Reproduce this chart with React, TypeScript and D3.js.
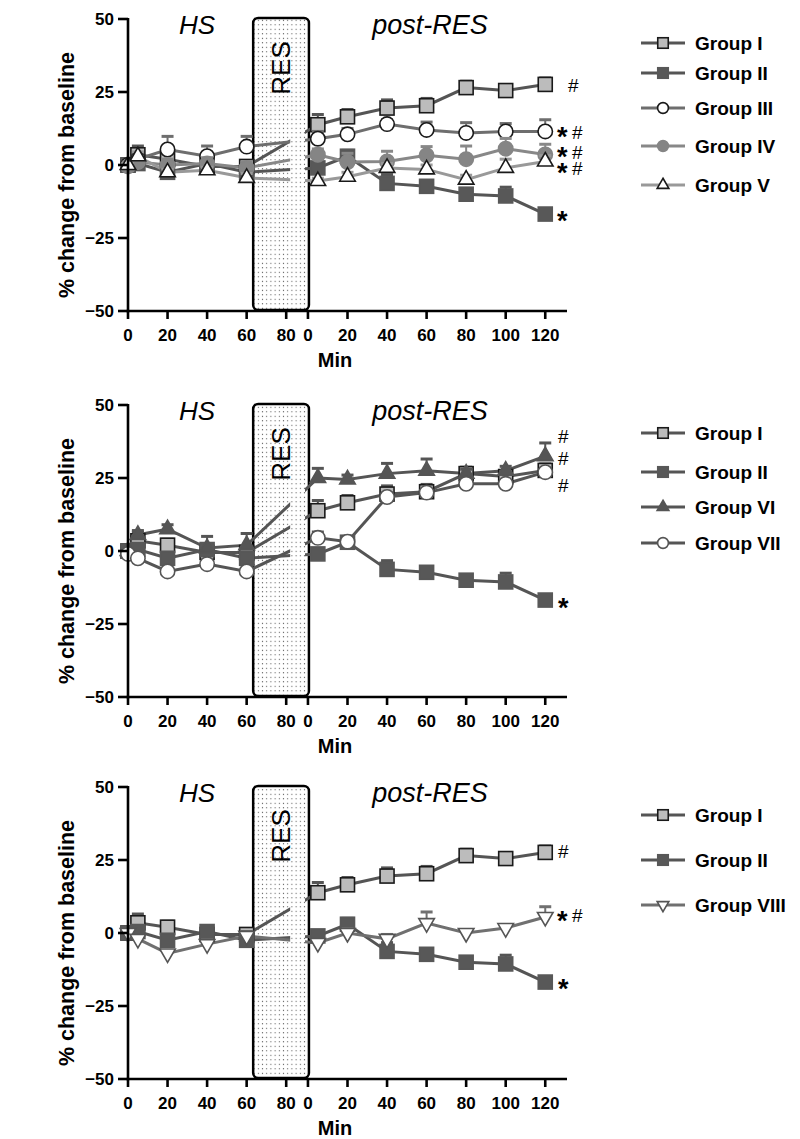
import React from "react";
import * as d3 from "d3";

// time points (min)
const hsTimes = [0, 5, 20, 40, 60];
const postTimes = [5, 20, 40, 60, 80, 100, 120];
const hsTicks = [0, 20, 40, 60, 80];
const postTicks = [0, 20, 40, 60, 80, 100, 120];
const yTicks = [-50, -25, 0, 25, 50];

// % change from baseline (HS phase / post-RES phase) and upper SEM
const groupIHs = [0, 3.5, 2, -0.5, -0.5];
const groupIPost = [13.8, 16.5, 19.5, 20.3, 26.5, 25.5, 27.6];
const groupIErrHs = [0, 3, 2, 2, 2];
const groupIErrPost = [3.5, 2.5, 2.8, 2.5, 2.2, 2, 2.2];

const groupIIHs = [0, 0.5, -2.5, 0.5, -2.5];
const groupIIPost = [-1, 3, -6.3, -7.3, -10, -10.6, -16.8];
const groupIIErrHs = [0, 1.5, 2, 1.5, 1.5];
const groupIIErrPost = [1.5, 2, 3, 2, 1.5, 3, 0.5];

const groupIIIHs = [0, 2, 5.3, 3, 6.3];
const groupIIIPost = [9, 10.5, 14, 12, 11, 11.5, 11.5];
const groupIIIErrHs = [0, 2, 4.5, 3.5, 3.5];
const groupIIIErrPost = [2.5, 2, 1.5, 2.7, 3.5, 2.7, 4];

const groupIVHs = [-0.5, 1, 0, 0.5, -1];
const groupIVPost = [3.5, 1, 1.2, 3.3, 2, 5.6, 3.6];
const groupIVErrHs = [0, 2, 2, 2, 2];
const groupIVErrPost = [2, 3, 3.5, 3, 4.5, 3.5, 3.5];

const groupVHs = [0, 3, -2.5, -1.8, -4.4];
const groupVPost = [-5.5, -4, -1, -1.5, -5, -1, 1.2];
const groupVErrHs = [0.5, 1.5, 1, 1, 1.5];
const groupVErrPost = [1, 1.5, 1.5, 1.5, 1.5, 3, 2];

const groupVIHs = [0, 5.5, 7.5, 1, 2];
const groupVIPost = [25, 24.5, 26.5, 27.5, 26.5, 27.5, 32.5];
const groupVIErrHs = [0, 1.5, 1.5, 4, 4];
const groupVIErrPost = [3.3, 1.5, 3.5, 4, 1.5, 1.5, 4.5];

const groupVIIHs = [-1, -2.5, -7, -4.5, -7];
const groupVIIPost = [4.5, 3.2, 18.5, 20, 23, 23, 27];
const groupVIIErrHs = [0, 1, 1, 1, 1];
const groupVIIErrPost = [2, 1, 1, 1, 1, 1, 1];

const groupVIIIHs = [0, -2, -7, -3.8, -1];
const groupVIIIPost = [-3.4, 0, -2, 3.4, 0, 1.7, 5.5];
const groupVIIIErrHs = [0, 1, 1, 1.5, 1.5];
const groupVIIIErrPost = [1, 1.5, 1.5, 3.8, 1, 1, 3.5];

const POST_OFFSET = 91; // post-RES 0 sits 91 "min" after HS 0 on the broken axis

type Series = {
  name: string;
  hs: number[];
  post: number[];
  errHs: number[];
  errPost: number[];
  shape: "square" | "circle" | "triangle" | "down";
  line: string;
  fill: string;
  stroke: string;
};

const G: Record<string, Series> = {
  I: { name: "Group I", hs: groupIHs, post: groupIPost, errHs: groupIErrHs, errPost: groupIErrPost, shape: "square", line: "#555", fill: "#bcbcbc", stroke: "#1a1a1a" },
  II: { name: "Group II", hs: groupIIHs, post: groupIIPost, errHs: groupIIErrHs, errPost: groupIIErrPost, shape: "square", line: "#555", fill: "#585858", stroke: "#585858" },
  III: { name: "Group III", hs: groupIIIHs, post: groupIIIPost, errHs: groupIIIErrHs, errPost: groupIIIErrPost, shape: "circle", line: "#6e6e6e", fill: "#fff", stroke: "#1a1a1a" },
  IV: { name: "Group IV", hs: groupIVHs, post: groupIVPost, errHs: groupIVErrHs, errPost: groupIVErrPost, shape: "circle", line: "#888", fill: "#858585", stroke: "#858585" },
  V: { name: "Group V", hs: groupVHs, post: groupVPost, errHs: groupVErrHs, errPost: groupVErrPost, shape: "triangle", line: "#999", fill: "#fff", stroke: "#1a1a1a" },
  VI: { name: "Group VI", hs: groupVIHs, post: groupVIPost, errHs: groupVIErrHs, errPost: groupVIErrPost, shape: "triangle", line: "#555", fill: "#555", stroke: "#555" },
  VII: { name: "Group VII", hs: groupVIIHs, post: groupVIIPost, errHs: groupVIIErrHs, errPost: groupVIIErrPost, shape: "circle", line: "#555", fill: "#fff", stroke: "#555" },
  VIII: { name: "Group VIII", hs: groupVIIIHs, post: groupVIIIPost, errHs: groupVIIIErrHs, errPost: groupVIIIErrPost, shape: "down", line: "#707070", fill: "#fff", stroke: "#555" },
};

type Note = { key: string; text: string; dy: number; dx: number };

const panels = [
  {
    top: 19,
    keys: ["I", "II", "III", "IV", "V"],
    legendY: [24, 54, 89, 127, 166],
    notes: [
      { key: "I", text: "#", dy: 1, dx: 28 },
      { key: "III", text: "*#", dy: 0, dx: 17 },
      { key: "IV", text: "*#", dy: -3, dx: 17 },
      { key: "V", text: "*#", dy: 6, dx: 17 },
      { key: "II", text: "*", dy: 1, dx: 17 },
    ] as Note[],
  },
  {
    top: 405,
    keys: ["I", "II", "VI", "VII"],
    legendY: [28, 67, 102, 138],
    notes: [
      { key: "VI", text: "#", dy: -20, dx: 18 },
      { key: "I", text: "#", dy: -12, dx: 18 },
      { key: "VII", text: "#", dy: 13, dx: 18 },
      { key: "II", text: "*", dy: 2, dx: 18 },
    ] as Note[],
  },
  {
    top: 787,
    keys: ["I", "II", "VIII"],
    legendY: [28, 73, 118],
    notes: [
      { key: "I", text: "#", dy: -1, dx: 18 },
      { key: "VIII", text: "*#", dy: -2, dx: 17 },
      { key: "II", text: "*", dy: 1, dx: 18 },
    ] as Note[],
  },
];

const FONT = "'Liberation Sans', Arial, sans-serif";
const x = d3.scaleLinear().domain([0, 222]).range([128, 567]);

function Marker({ s, cx, cy, scale = 1 }: { s: Series; cx: number; cy: number; scale?: number }) {
  const sw = 1.6;
  if (s.shape === "square") {
    const h = 7 * scale;
    return <rect x={cx - h} y={cy - h} width={2 * h} height={2 * h} fill={s.fill} stroke={s.stroke} strokeWidth={sw} />;
  }
  if (s.shape === "circle") {
    return <circle cx={cx} cy={cy} r={7.2 * scale} fill={s.fill} stroke={s.stroke} strokeWidth={sw} />;
  }
  const path = d3.symbol(d3.symbolTriangle, 105 * scale * scale)()!;
  const rot = s.shape === "down" ? 180 : 0;
  return <path d={path} transform={`translate(${cx},${cy}) rotate(${rot})`} fill={s.fill} stroke={s.stroke} strokeWidth={sw} />;
}

function Panel({ cfg, idx }: { cfg: (typeof panels)[number]; idx: number }) {
  const top = cfg.top;
  const bottom = top + 292;
  const y = d3.scaleLinear().domain([-50, 50]).range([bottom, top]);
  const series = cfg.keys.map((k) => G[k]);
  const line = d3.line<[number, number]>().x((d) => x(d[0])).y((d) => y(d[1]));
  const pts = (s: Series) => [
    ...hsTimes.map((t, i) => ({ t, v: s.hs[i], e: s.errHs[i] })),
    ...postTimes.map((t, i) => ({ t: t + POST_OFFSET, v: s.post[i], e: s.errPost[i] })),
  ];
  const boxL = x(63.3), boxR = x(91.5);

  return (
    <g>
      <defs>
        <clipPath id={`hs${idx}`}><rect x={100} y={top - 30} width={x(82) - 100} height={340} /></clipPath>
        <clipPath id={`po${idx}`}><rect x={x(89.5)} y={top - 30} width={300} height={340} /></clipPath>
      </defs>
      {/* RES box */}
      <rect x={boxL} y={top - 1} width={boxR - boxL} height={bottom - top} rx={5} fill="url(#dots)" stroke="#000" strokeWidth={2.5} />
      <text transform={`translate(${(boxL + boxR) / 2 + 9},${top + 49}) rotate(-90)`} textAnchor="middle" fontFamily={FONT} fontSize={26}>RES</text>
      <text x={197} y={top + 15} textAnchor="middle" fontFamily={FONT} fontSize={26} fontStyle="italic">HS</text>
      <text x={430} y={top + 15} textAnchor="middle" fontFamily={FONT} fontSize={27} fontStyle="italic">post-RES</text>

      {/* lines */}
      {series.map((s) => {
        const d = line(pts(s).map((p) => [p.t, p.v] as [number, number]))!;
        return (
          <g key={s.name} fill="none" stroke={s.line} strokeWidth={3}>
            <path d={d} clipPath={`url(#hs${idx})`} />
            <path d={d} clipPath={`url(#po${idx})`} />
          </g>
        );
      })}
      {/* error bars + markers */}
      {series.map((s) => (
        <g key={s.name + "m"}>
          {pts(s).filter((p) => p.e > 0.3).map((p, i) => (
            <g key={i} stroke={s.line}>
              <line x1={x(p.t)} x2={x(p.t)} y1={y(p.v)} y2={y(p.v + p.e)} strokeWidth={2} />
              <line x1={x(p.t) - 6} x2={x(p.t) + 6} y1={y(p.v + p.e)} y2={y(p.v + p.e)} strokeWidth={3} />
            </g>
          ))}
          {pts(s).map((p, i) => <Marker key={i} s={s} cx={x(p.t)} cy={y(p.v)} />)}
        </g>
      ))}

      {/* significance marks */}
      {cfg.notes.map((n, i) => {
        const s = G[n.key];
        const cx = x(120 + POST_OFFSET) + n.dx;
        const cy = y(s.post[s.post.length - 1]) + n.dy;
        if (n.text === "#") return <text key={i} x={cx} y={cy + 6.5} textAnchor="middle" fontFamily={FONT} fontSize={19}>#</text>;
        return (
          <g key={i}>
            <text x={cx} y={cy + 15} textAnchor="middle" fontFamily={FONT} fontSize={27} fontWeight="bold">*</text>
            {n.text === "*#" && <text x={cx + 15} y={cy + 7.5} textAnchor="middle" fontFamily={FONT} fontSize={19}>#</text>}
          </g>
        );
      })}

      {/* axes */}
      <g stroke="#000" strokeWidth={2.6}>
        <line x1={128} x2={128} y1={top - 1} y2={bottom + 1.3} />
        <line x1={126.7} x2={567} y1={bottom} y2={bottom} />
        {yTicks.map((t) => <line key={t} x1={118} x2={128} y1={y(t)} y2={y(t)} />)}
        {hsTicks.map((t) => <line key={"h" + t} x1={x(t)} x2={x(t)} y1={bottom} y2={bottom + 8} />)}
        {postTicks.map((t) => <line key={"p" + t} x1={x(t + POST_OFFSET)} x2={x(t + POST_OFFSET)} y1={bottom} y2={bottom + 8} />)}
      </g>
      <g fontFamily={FONT} fontWeight="bold" fontSize={17}>
        {yTicks.map((t) => (
          <text key={t} x={114} y={y(t) + 6} textAnchor="end">{t < 0 ? `\u2212${-t}` : t}</text>
        ))}
        {hsTicks.map((t) => <text key={"h" + t} x={x(t)} y={bottom + 30} textAnchor="middle">{t}</text>)}
        {postTicks.map((t) => <text key={"p" + t} x={x(t + POST_OFFSET)} y={bottom + 30} textAnchor="middle">{t}</text>)}
        <text x={335} y={bottom + 56} textAnchor="middle" fontSize={20}>Min</text>
        <text transform={`translate(74,${top + 156}) rotate(-90)`} textAnchor="middle" fontSize={21.5}>% change from baseline</text>
      </g>

      {/* legend */}
      {series.map((s, i) => {
        const ly = top + cfg.legendY[i];
        return (
          <g key={s.name + "l"}>
            <line x1={641} x2={685} y1={ly} y2={ly} stroke={s.line} strokeWidth={3} />
            <Marker s={s} cx={663} cy={ly} scale={0.75} />
            <text x={695} y={ly + 7} fontFamily={FONT} fontWeight="bold" fontSize={19}>{s.name}</text>
          </g>
        );
      })}
    </g>
  );
}

export default function App() {
  return (
    <svg width={800} height={1139} style={{ position: "absolute", left: 0, top: 0, background: "#fff" }}>
      <defs>
        <pattern id="dots" width={4.2} height={4.5} patternUnits="userSpaceOnUse">
          <rect width={4.2} height={4.5} fill="#fff" />
          <rect x={1.6} y={1.8} width={1} height={1} fill="#444" />
        </pattern>
      </defs>
      {panels.map((p, i) => <Panel key={i} cfg={p} idx={i} />)}
    </svg>
  );
}
